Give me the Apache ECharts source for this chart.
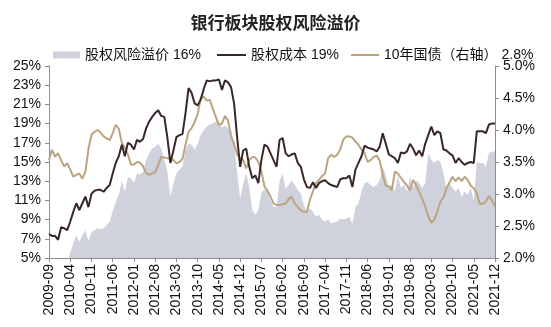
<!DOCTYPE html>
<html>
<head>
<meta charset="utf-8">
<script src="https://cdn.jsdelivr.net/npm/echarts@6/dist/echarts.min.js"></script>
<style>
  html, body { margin: 0; padding: 0; background: #fff; }
  #chart { width: 551px; height: 327px; }
</style>
</head>
<body>
<div id="chart"></div>
<script>
'use strict';

// monthly, 2009-09 .. 2021-12
var months = [];
for (var y = 2009, m = 9; y < 2022; ) {
    months.push(y + '-' + (m < 10 ? '0' + m : m));
    m++;
    if (m > 12) { m = 1; y++; }
}

// 股权风险溢价 (%), left axis
var premium = [
    4.0, 3.6, 3.7, 3.3, 4.7, 4.7, 4.4, 5.6, 6.5, 7.4,
    6.7, 7.4, 7.9, 6.8, 7.7, 7.9, 8.1, 8.0, 8.1, 8.4,
    8.8, 9.9, 10.8, 11.6, 13.0, 11.9, 13.4, 13.3, 12.8, 13.8,
    13.7, 14.0, 15.2, 15.9, 16.4, 16.6, 16.9, 16.4, 15.2, 14.0,
    11.4, 12.7, 13.8, 14.2, 14.5, 16.3, 16.9, 16.8, 16.3, 16.9,
    17.8, 18.3, 18.7, 18.9, 19.0, 19.2, 19.2, 18.6, 18.8, 18.5,
    18.3, 17.0, 14.0, 11.2, 12.7, 13.8, 12.4, 10.0, 9.5, 10.0,
    11.8, 12.2, 11.9, 11.0, 10.3, 10.3, 13.0, 13.8, 12.2, 12.6,
    13.1, 12.6, 12.1, 11.7, 10.5, 9.8, 10.2, 9.8, 9.3, 9.5,
    9.0, 8.8, 9.0, 8.6, 8.7, 8.8, 9.1, 9.0, 9.1, 9.3,
    8.6, 10.3, 10.7, 11.9, 12.8, 12.9, 12.6, 12.4, 12.6, 13.1,
    14.5, 13.6, 12.4, 12.6, 11.9, 13.6, 12.3, 12.6, 11.9, 13.5,
    12.4, 13.1, 12.8, 12.3, 12.8, 15.9, 15.2, 14.9, 15.2, 15.0,
    13.8, 12.3, 12.8, 12.3, 11.9, 12.3, 11.4, 11.9, 11.6, 12.3,
    11.0, 15.0, 14.9, 14.9, 14.5, 15.9, 16.1, 16.1
];

// 股权成本 (%), left axis
var equityCost = [
    7.5, 7.3, 7.3, 6.9, 8.2, 8.1, 7.9, 8.8, 9.8, 10.7,
    10.0, 10.7, 11.4, 10.3, 11.7, 12.0, 12.1, 12.1, 11.9, 12.3,
    12.6, 13.8, 14.9, 15.6, 16.8, 15.6, 17.0, 16.8, 16.3, 17.3,
    17.1, 17.4, 18.5, 19.2, 19.7, 20.1, 20.4, 19.8, 19.7, 17.6,
    14.9, 16.2, 17.6, 17.8, 17.9, 20.1, 22.7, 22.2, 21.1, 20.9,
    21.5, 22.6, 23.5, 23.4, 23.5, 23.5, 23.6, 22.5, 23.5, 23.3,
    22.8, 21.1, 17.6, 14.5, 16.2, 16.4, 14.5, 13.3, 13.6, 12.8,
    15.2, 16.8, 16.6, 15.9, 15.2, 14.5, 17.3, 17.5, 15.9, 15.6,
    15.8, 15.9, 14.9, 14.5, 13.2, 12.4, 12.3, 12.9, 12.3, 12.8,
    13.0, 13.1, 12.8, 12.6, 12.5, 12.4, 13.2, 13.3, 13.3, 13.6,
    12.4, 14.2, 14.9, 15.6, 16.7, 16.5, 16.4, 16.3, 16.1, 16.6,
    18.0, 16.9, 15.8, 15.6, 15.4, 14.9, 16.0, 15.9, 16.1, 16.9,
    16.4, 15.7, 16.2, 15.6, 16.9, 17.8, 18.7, 17.8, 18.2, 18.0,
    16.3, 16.2, 15.9, 15.7, 14.9, 15.4, 15.0, 14.7, 14.9, 15.0,
    14.9, 18.2, 18.2, 18.2, 18.0, 18.9, 19.0, 19.0
];

// 10年国债 (%), right axis
var bond10y = [
    3.53, 3.69, 3.58, 3.64, 3.53, 3.43, 3.48, 3.38, 3.27, 3.30,
    3.32, 3.24, 3.35, 3.70, 3.93, 3.97, 4.00, 3.96, 3.90, 3.87,
    3.84, 3.95, 4.08, 4.02, 3.80, 3.72, 3.62, 3.46, 3.46, 3.50,
    3.49, 3.43, 3.33, 3.30, 3.32, 3.34, 3.45, 3.58, 3.57, 3.56,
    3.54, 3.53, 3.48, 3.50, 3.55, 3.77, 3.97, 4.03, 4.12, 4.25,
    4.50, 4.52, 4.46, 4.47, 4.33, 4.20, 4.08, 4.10, 4.22, 4.15,
    3.90, 3.78, 3.62, 3.56, 3.53, 3.40, 3.53, 3.58, 3.57, 3.50,
    3.36, 3.12, 3.05, 2.96, 2.85, 2.83, 2.83, 2.84, 2.85, 2.92,
    2.96, 2.85, 2.80, 2.74, 2.72, 2.72, 2.91, 3.04, 3.17, 3.22,
    3.28, 3.32, 3.56, 3.61, 3.58, 3.61, 3.70, 3.85, 3.90, 3.90,
    3.88, 3.82, 3.77, 3.69, 3.64, 3.50, 3.53, 3.58, 3.60, 3.52,
    3.30, 3.13, 3.12, 3.06, 3.35, 3.32, 3.25, 3.19, 3.13, 3.06,
    3.22, 3.14, 3.03, 2.93, 2.80, 2.65, 2.55, 2.60, 2.73, 2.88,
    2.95, 3.09, 3.18, 3.27, 3.20, 3.26, 3.20, 3.27, 3.22, 3.13,
    3.09, 3.01, 2.84, 2.85, 2.88, 2.97, 2.90, 2.80
];

var seriesNames = ['股权风险溢价', '股权成本', '10年国债（右轴）'];
var latestLabels = ['16%', '19%', '2.8%'];

var FONT = '"Liberation Sans", Arial, "Noto Sans CJK SC", sans-serif';
var AREA_COLOR = '#cfd2dc';
var COST_COLOR = '#3a2727';
var BOND_COLOR = '#bba47f';

var chart = echarts.init(document.getElementById('chart'), null, { renderer: 'canvas' });

function legendFor(index, left, icon, w, h, color) {
    return {
        left: left,
        top: 43,
        icon: icon,
        itemWidth: w,
        itemHeight: h,
        itemGap: 0,
        data: [{ name: seriesNames[index], itemStyle: { color: color } }],
        formatter: function (name) {
            return name + ' ' + latestLabels[index];
        },
        textStyle: { fontFamily: FONT, fontSize: 14, color: '#111' },
        selectedMode: false
    };
}

var axisLine = { show: true, lineStyle: { color: '#8c8c8c', width: 1 } };

chart.setOption({
    animation: false,
    backgroundColor: '#fff',
    title: {
        text: '银行板块股权风险溢价',
        left: 'center',
        top: 11,
        textStyle: { fontFamily: FONT, fontSize: 17, fontWeight: 'bold', color: '#222' }
    },
    legend: [
        legendFor(0, 48, 'rect', 27, 7, AREA_COLOR),
        legendFor(1, 212, 'rect', 29, 2, COST_COLOR),
        legendFor(2, 346, 'rect', 28, 2, BOND_COLOR)
    ],
    grid: { left: 49, right: 56, top: 66, bottom: 69 },
    xAxis: {
        type: 'category',
        boundaryGap: false,
        data: months,
        axisLine: axisLine,
        axisTick: { show: true, interval: 6, length: 4, lineStyle: { color: '#8c8c8c' } },
        axisLabel: {
            interval: 6,
            rotate: 90,
            margin: 6,
            fontFamily: FONT,
            fontSize: 14,
            color: '#111'
        },
        splitLine: { show: false }
    },
    yAxis: [
        {
            type: 'value',
            min: 5,
            max: 25,
            interval: 2,
            axisLine: axisLine,
            axisTick: { show: true, length: 4, lineStyle: { color: '#8c8c8c' } },
            axisLabel: {
                formatter: '{value}%',
                margin: 8,
                fontFamily: FONT,
                fontSize: 14,
                color: '#111'
            },
            splitLine: { show: false }
        },
        {
            type: 'value',
            min: 2,
            max: 5,
            interval: 0.5,
            position: 'right',
            axisLine: axisLine,
            axisTick: { show: true, length: 4, lineStyle: { color: '#8c8c8c' } },
            axisLabel: {
                formatter: function (v) { return v.toFixed(1) + '%'; },
                margin: 8,
                fontFamily: FONT,
                fontSize: 14,
                color: '#111'
            },
            splitLine: { show: false }
        }
    ],
    series: [
        {
            name: seriesNames[0],
            type: 'line',
            data: premium,
            symbol: 'none',
            lineStyle: { width: 0, color: AREA_COLOR },
            itemStyle: { color: AREA_COLOR },
            areaStyle: { color: AREA_COLOR, opacity: 1 },
            z: 1
        },
        {
            name: seriesNames[1],
            type: 'line',
            data: equityCost,
            symbol: 'none',
            lineStyle: { width: 2, color: COST_COLOR },
            itemStyle: { color: COST_COLOR },
            z: 3
        },
        {
            name: seriesNames[2],
            type: 'line',
            yAxisIndex: 1,
            data: bond10y,
            symbol: 'none',
            lineStyle: { width: 2, color: BOND_COLOR },
            itemStyle: { color: BOND_COLOR },
            z: 2
        }
    ]
});
</script>
</body>
</html>
